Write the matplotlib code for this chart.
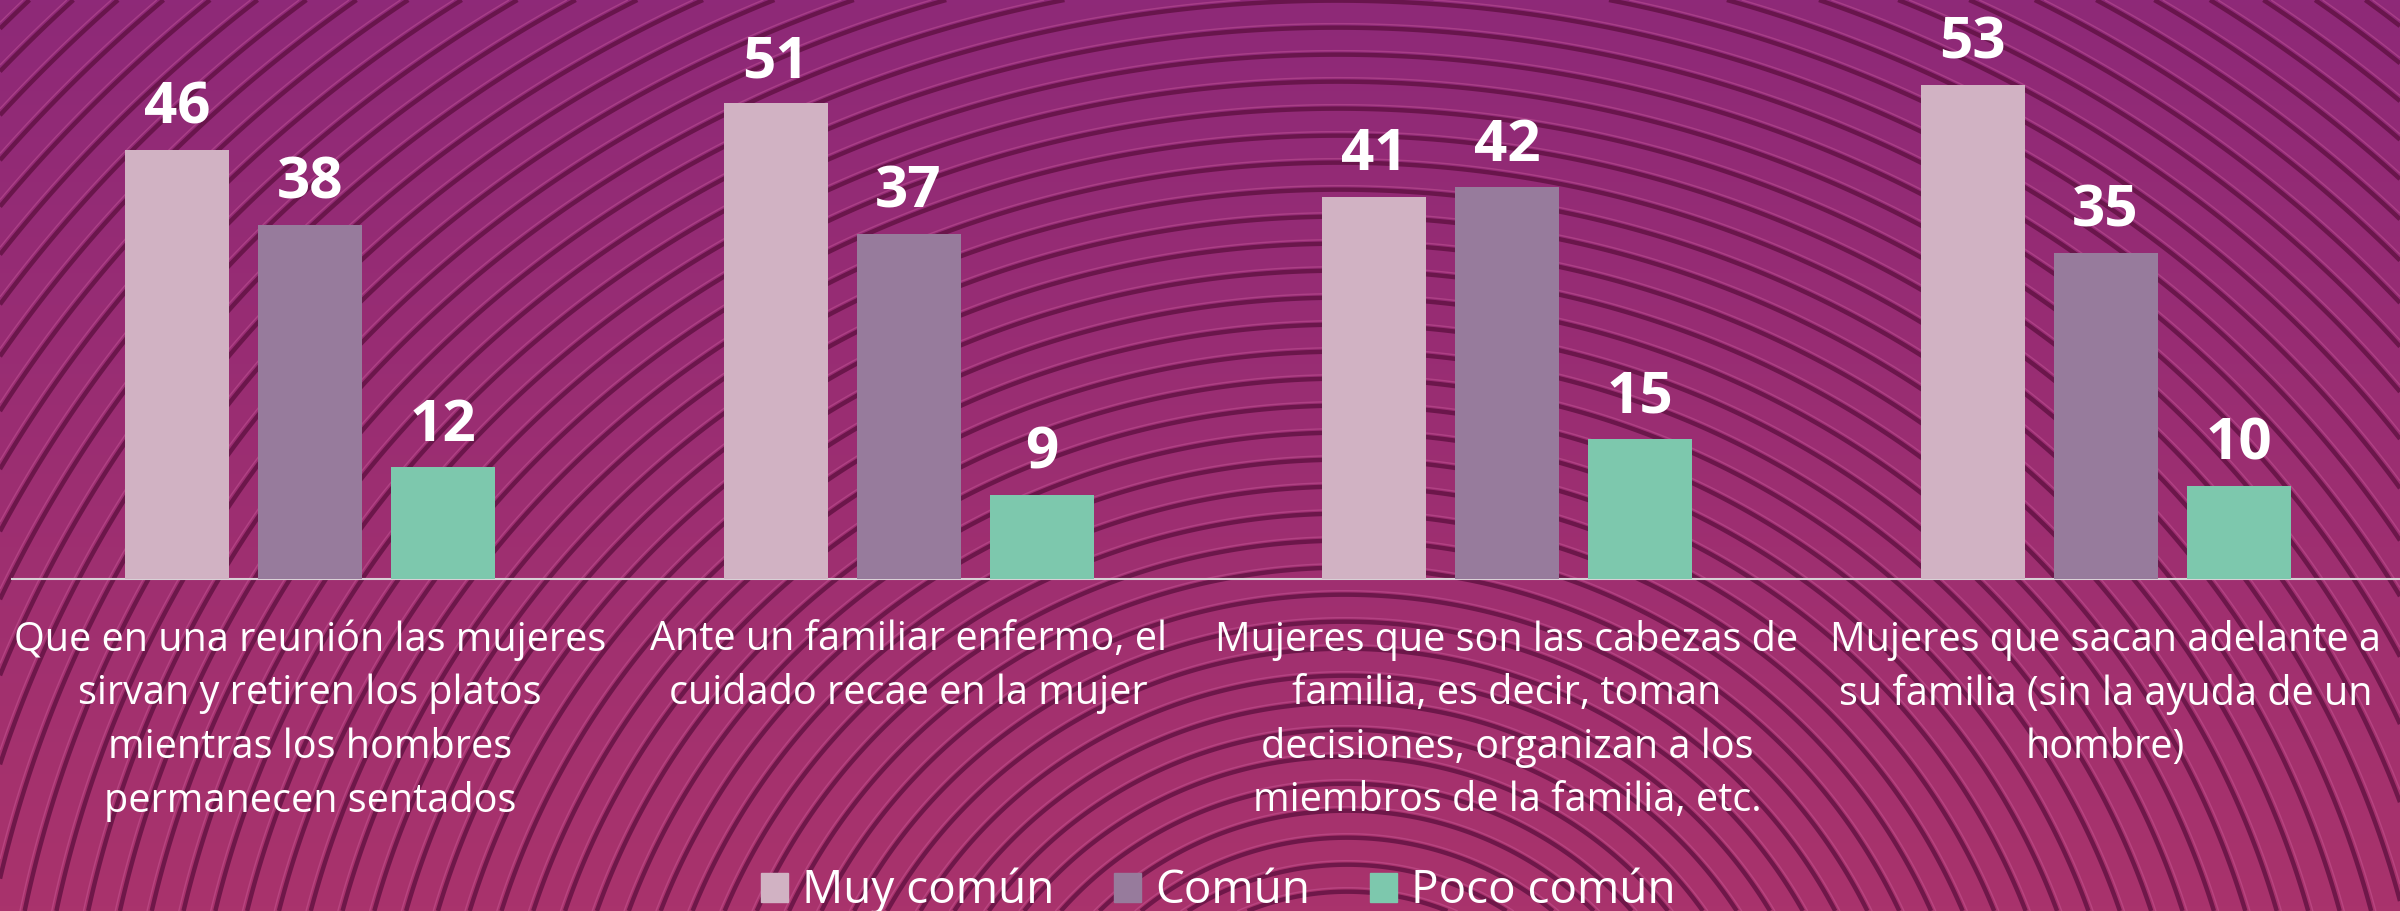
import numpy as np
import matplotlib.pyplot as plt
from matplotlib.patches import Patch

plt.rcParams['font.family'] = ['Open Sans', 'DejaVu Sans']

categories = [
    'Que en una reunión las mujeres\nsirvan y retiren los platos\nmientras los hombres\npermanecen sentados',
    'Ante un familiar enfermo, el\ncuidado recae en la mujer',
    'Mujeres que son las cabezas de\nfamilia, es decir, toman\ndecisiones, organizan a los\nmiembros de la familia, etc.',
    'Mujeres que sacan adelante a\nsu familia (sin la ayuda de un\nhombre)',
]
series_names = ['Muy común', 'Común', 'Poco común']
muy_comun = [46, 51, 41, 53]
comun = [38, 37, 42, 35]
poco_comun = [12, 9, 15, 10]

COLORS = ['#d1b2c3', '#977b9c', '#7dc8ad']
W, H = 2400, 911

fig = plt.figure(figsize=(W / 100, H / 100), dpi=100)

# background: gradient + wavy contour lines
bg = fig.add_axes([0, 0, 1, 1])
bg.set_xlim(0, W)
bg.set_ylim(H, 0)
bg.axis('off')
top = np.array([0x8e, 0x29, 0x78]) / 255
bot = np.array([0xa9, 0x33, 0x6c]) / 255
t = np.linspace(0, 1, 200)[:, None, None]
grad = np.repeat(top * (1 - t) + bot * t, 2, axis=1)
bg.imshow(grad, extent=[0, W, H, 0], aspect='auto', zorder=0)
xx, yy = np.meshgrid(np.linspace(0, W, 600), np.linspace(0, H, 240))
phi = np.hypot(xx - 1350, yy - 1150) + 120 * np.sin(xx / 900.0)
lv = np.arange(0, 3500, 27)
bg.contour(xx, yy, phi, levels=lv + 4, colors='#d868a8', linewidths=1.0, alpha=0.35, zorder=1)
bg.contour(xx, yy, phi, levels=lv, colors='#5c0f3e', linewidths=3.2, alpha=0.75, zorder=2)

# bar chart
x0 = 12
gc = 310
gstep = 598.5
ax = fig.add_axes([x0 / W, 332 / H, 1 - x0 / W, 579 / H])
ax.patch.set_alpha(0)
ax.set_xlim(-(gc - x0) / gstep, (W - gc) / gstep)
ax.set_ylim(0, 62.1)

x = np.arange(len(categories))
off = 133 / gstep
bw = 104 / gstep
for i, (vals, name) in enumerate(zip([muy_comun, comun, poco_comun], series_names)):
    xs = x + (i - 1) * off
    ax.bar(xs, vals, width=bw, color=COLORS[i], label=name, zorder=3)
    for xi, v in zip(xs, vals):
        ax.annotate(str(v), (xi, v), xytext=(0, 19), textcoords='offset points',
                    ha='center', va='baseline', color='white', fontsize=42,
                    fontweight='bold')

for s in ['top', 'right', 'left']:
    ax.spines[s].set_visible(False)
ax.spines['bottom'].set_color('#d9d0d6')
ax.spines['bottom'].set_linewidth(1.5)
ax.set_yticks([])
ax.set_xticks([])

for xi, lab in zip(x, categories):
    ax.text(xi, -0.07, lab, transform=ax.get_xaxis_transform(), ha='center', va='top',
            color='white', fontsize=28.5, linespacing=1.42)

handles = [Patch(color=c, label=n) for c, n in zip(COLORS, series_names)]
fig.legend(handles=handles, loc='center', bbox_to_anchor=(1218 / W, 20 / H), ncol=3,
           frameon=False, fontsize=33, labelcolor='white', handlelength=0.6,
           handleheight=0.6, handletextpad=0.3, columnspacing=1.3)

plt.savefig('out.png', dpi=100)
